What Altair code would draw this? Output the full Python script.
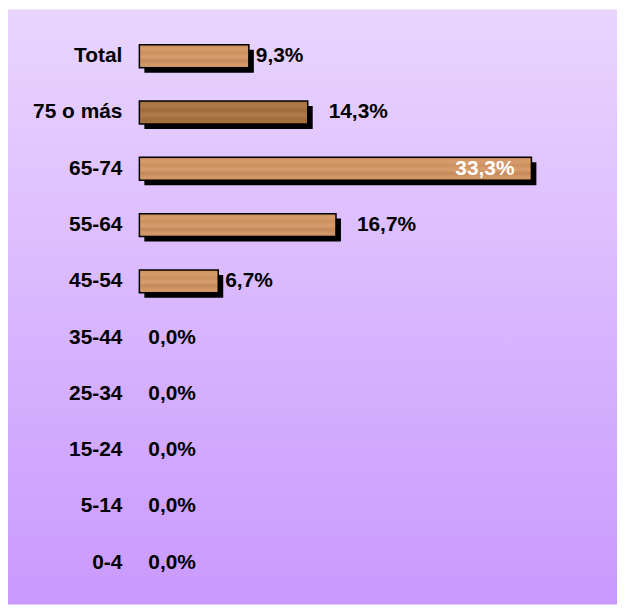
import altair as alt
import pandas as pd

# ---- data ----
categories = ["Total", "75 o más", "65-74", "55-64", "45-54",
              "35-44", "25-34", "15-24", "5-14", "0-4"]
values = [9.3, 14.3, 33.3, 16.7, 6.7, 0.0, 0.0, 0.0, 0.0, 0.0]

df = pd.DataFrame({"cat": categories, "value": values})
df["label"] = df["value"].map(lambda v: f"{v:.1f}".replace(".", ",") + "%")

# label placement groups (style only)
near_labels = ["Total", "45-54"]
far_labels = ["75 o más", "55-64"]
inside_labels = ["65-74"]
dark_bars = ["75 o más"]

W, H = 612, 598
FONT = "Liberation Sans"
FS = 21

x_scale = alt.Scale(domain=[-11.16, 40.57], nice=False, zero=False)
y_scale = alt.Scale(domain=categories, paddingInner=0.5934,
                    paddingOuter=0.5832, align=0.538)

base = alt.Chart(df).encode(
    y=alt.Y("cat:N", scale=y_scale, axis=None, sort=categories)
)

wood = alt.LinearGradient(
    gradient="linear", x1=0, x2=0, y1=0, y2=1,
    stops=[
        alt.GradientStop(color="#CB8C5C", offset=0.0),
        alt.GradientStop(color="#D89D6C", offset=0.18),
        alt.GradientStop(color="#CD8F5F", offset=0.35),
        alt.GradientStop(color="#D99E6E", offset=0.52),
        alt.GradientStop(color="#C68859", offset=0.7),
        alt.GradientStop(color="#D59A69", offset=0.86),
        alt.GradientStop(color="#CB8D5D", offset=1.0),
    ],
)
wood_dark = alt.LinearGradient(
    gradient="linear", x1=0, x2=0, y1=0, y2=1,
    stops=[
        alt.GradientStop(color="#A26F3F", offset=0.0),
        alt.GradientStop(color="#B07A48", offset=0.2),
        alt.GradientStop(color="#9E6B3B", offset=0.4),
        alt.GradientStop(color="#B27D4C", offset=0.6),
        alt.GradientStop(color="#A06C3C", offset=0.8),
        alt.GradientStop(color="#A97444", offset=1.0),
    ],
)

bg = alt.LinearGradient(
    gradient="linear", x1=0, x2=0, y1=0, y2=1,
    stops=[alt.GradientStop(color="#E9D5FE", offset=0.0),
           alt.GradientStop(color="#C999FE", offset=1.0)],
)

background = alt.Chart(pd.DataFrame({"k": [0]})).mark_rect(color=bg).encode(
    x=alt.value(0), x2=alt.value(W), y=alt.value(0), y2=alt.value(H)
)

xenc = alt.X("value:Q", scale=x_scale, axis=None)

shadow = base.transform_filter("datum.value > 0").mark_bar(
    color="black", xOffset=5, x2Offset=5, yOffset=5, y2Offset=5
).encode(x=xenc, x2=alt.datum(0))

bars = base.transform_filter("datum.value > 0").transform_filter(
    {"not": alt.FieldOneOfPredicate(field="cat", oneOf=dark_bars)}
).mark_bar(color=wood, stroke="black", strokeWidth=1.5).encode(
    x=xenc, x2=alt.datum(0))

bars_dark = base.transform_filter(
    alt.FieldOneOfPredicate(field="cat", oneOf=dark_bars)
).mark_bar(color=wood_dark, stroke="black", strokeWidth=1.5).encode(
    x=xenc, x2=alt.datum(0))

cat_text = base.mark_text(
    align="right", baseline="middle", font=FONT, fontWeight="bold",
    fontSize=FS, color="black"
).encode(x=alt.value(115), text="cat:N")

def value_text(filt, dx, align="left", color="black"):
    return base.transform_filter(filt).mark_text(
        align=align, baseline="middle", dx=dx, font=FONT,
        fontWeight="bold", fontSize=FS, color=color
    ).encode(x=xenc, text="label:N")

zero_text = value_text("datum.value == 0", 9)
near_text = value_text(alt.FieldOneOfPredicate(field="cat", oneOf=near_labels), 7)
far_text = value_text(alt.FieldOneOfPredicate(field="cat", oneOf=far_labels), 21)
in_text = value_text(alt.FieldOneOfPredicate(field="cat", oneOf=inside_labels),
                     -17, align="right", color="white")

chart = alt.layer(
    background, shadow, bars, bars_dark, cat_text, zero_text, near_text,
    far_text, in_text
).properties(
    width=W, height=H, padding=0, background="white"
).configure_view(stroke=None)

chart.save("out.html", embed_options={"renderer": "svg", "actions": False})
